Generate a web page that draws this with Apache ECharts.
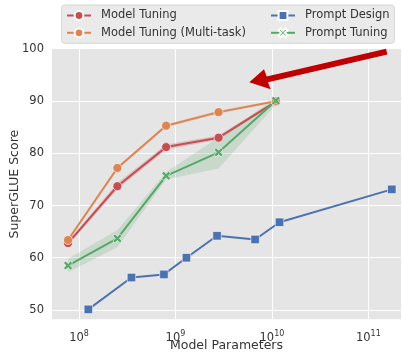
<!DOCTYPE html>
<html>
<head>
<meta charset="utf-8">
<script src="https://cdn.jsdelivr.net/npm/echarts@6/dist/echarts.min.js"></script>
<style>
  html, body { margin: 0; padding: 0; background: #fff; }
  #chart { width: 402px; height: 352px; }
</style>
</head>
<body>
<div id="chart"></div>
<script>
// Model sizes (parameters)
const t5Params = [7.7e7, 2.5e8, 8e8, 2.8e9, 1.1e10];
const gpt3Params = [1.25e8, 3.5e8, 7.6e8, 1.3e9, 2.7e9, 6.7e9, 1.2e10, 1.75e11];

// SuperGLUE scores
const modelTuning = [62.8, 73.7, 81.2, 83.0, 89.9];
const modelTuningLow = [62.4, 73.1, 80.7, 82.6, 89.6];
const modelTuningHigh = [63.2, 74.3, 81.7, 83.4, 90.2];

const multiTask = [63.4, 77.2, 85.3, 87.9, 90.0];
const multiTaskLow = [63.1, 76.9, 85.0, 87.6, 89.8];
const multiTaskHigh = [63.7, 77.5, 85.6, 88.2, 90.2];

const promptDesign = [50.1, 56.2, 56.8, 60.0, 64.2, 63.5, 66.8, 73.1];

const promptTuning = [58.5, 63.7, 75.7, 80.2, 90.1];
const promptTuningLow = [57.2, 62.0, 75.0, 77.1, 89.3];
const promptTuningHigh = [59.8, 65.3, 76.4, 83.1, 90.6];

const yTicks = [50, 60, 70, 80, 90, 100];

const RED = '#C44E52', ORANGE = '#DD8452', BLUE = '#4C72B0', GREEN = '#55A868';
const TEXT = '#333333';
const FONT = 'DejaVu Sans';

const xMarker = 'path://M0,2.2 L2.2,0 L5,2.8 L7.8,0 L10,2.2 L7.2,5 L10,7.8 L7.8,10 L5,7.2 L2.2,10 L0,7.8 L2.8,5 Z';

function pairs(xs, ys) { return xs.map((x, i) => [x, ys[i]]); }

// Shaded interval between low and high curves, drawn as one polygon
function bandSeries(name, xs, lo, hi, color) {
  return {
    type: 'custom',
    name: name + ' band',
    z: 1,
    silent: true,
    data: xs.map((x, i) => [x, lo[i], hi[i]]),
    encode: { x: 0, y: [1, 2] },
    renderItem: function (params, api) {
      if (params.dataIndex !== 0) return null;
      const pts = [];
      for (let i = 0; i < xs.length; i++) pts.push(api.coord([xs[i], hi[i]]));
      for (let i = xs.length - 1; i >= 0; i--) pts.push(api.coord([xs[i], lo[i]]));
      return {
        type: 'polygon',
        shape: { points: pts },
        style: { fill: color, stroke: null }
      };
    }
  };
}

function lineSeries(name, xs, ys, color, symbol, size) {
  return {
    type: 'line',
    name: name,
    z: 3,
    data: pairs(xs, ys),
    symbol: symbol,
    symbolSize: size,
    showAllSymbol: true,
    lineStyle: { color: color, width: 2 },
    itemStyle: { color: color, borderColor: '#ffffff', borderWidth: 0.6, opacity: 1 },
    emphasis: { disabled: true }
  };
}

const chart = echarts.init(document.getElementById('chart'), null, { renderer: 'canvas' });

const legendCommon = {
  orient: 'vertical',
  top: 8.5,
  padding: 0,
  itemWidth: 24,
  itemHeight: 11,
  itemGap: 3.3,
  selectedMode: false,
  textStyle: { color: TEXT, fontFamily: FONT, fontSize: 11.5, lineHeight: 14, padding: [0, 0, 0, 5] }
};

chart.setOption({
  animation: false,
  backgroundColor: '#ffffff',
  textStyle: { fontFamily: FONT },
  grid: {
    left: 52, right: 1, top: 49, bottom: 32.7,
    show: true, backgroundColor: '#e5e5e5', borderWidth: 0,
    containLabel: false,
    outerBoundsMode: 'none'
  },
  legend: [
    Object.assign({ left: 66, data: ['Model Tuning', 'Model Tuning (Multi-task)'] }, legendCommon),
    Object.assign({ left: 270, data: ['Prompt Design', 'Prompt Tuning'] }, legendCommon)
  ],
  graphic: [
    {
      type: 'rect', z: -1, silent: true,
      shape: { x: 61.7, y: 5, width: 332.6, height: 38.3, r: 3 },
      style: { fill: '#eaeaea', stroke: '#d4d4d4', lineWidth: 1 }
    },
    {
      // annotation arrow
      type: 'polygon', z: 100, silent: true,
      shape: { points: [[249.3, 82.3], [264, 69.3], [266.7, 76.4], [386.0, 48.8], [387.4, 54.6], [268.0, 82.2], [270.7, 89.3]] },
      style: { fill: '#c00000' }
    }
  ],
  xAxis: {
    type: 'log',
    logBase: 10,
    min: 5.25e7,
    max: 2.18e11,
    name: 'Model Parameters',
    nameLocation: 'middle',
    nameGap: 20,
    nameMoveOverlap: false,
    nameTextStyle: { color: TEXT, fontFamily: FONT, fontSize: 12.5 },
    axisLine: { show: false },
    axisTick: { show: false },
    splitLine: { show: true, showMinLine: false, showMaxLine: false, lineStyle: { color: '#ffffff', width: 1 } },
    axisLabel: {
      showMinLabel: false,
      showMaxLabel: false,
      margin: 11,
      color: TEXT,
      formatter: function (v) {
        const e = Math.round(Math.log10(v));
        return '{b|10}{s|' + e + '}';
      },
      rich: {
        b: { fontSize: 11.5, fontFamily: FONT, color: TEXT, lineHeight: 14, verticalAlign: 'bottom', padding: [4, 0, 0, 0] },
        s: { fontSize: 8, fontFamily: FONT, color: TEXT, lineHeight: 14, verticalAlign: 'top' }
      }
    }
  },
  yAxis: {
    type: 'value',
    min: 48.2,
    max: 100,
    splitNumber: 5,
    name: 'SuperGLUE Score',
    nameLocation: 'middle',
    nameGap: 31,
    nameMoveOverlap: false,
    nameTextStyle: { color: TEXT, fontFamily: FONT, fontSize: 12.5 },
    axisLine: { show: false },
    axisTick: { show: false },
    splitLine: { show: true, showMinLine: false, showMaxLine: false, lineStyle: { color: '#ffffff', width: 1 } },
    axisLabel: {
      margin: 8,
      color: TEXT,
      fontSize: 11.5,
      fontFamily: FONT,
      showMinLabel: false,
      formatter: function (v) { return yTicks.indexOf(v) >= 0 ? String(v) : ''; }
    }
  },
  series: [
    bandSeries('Model Tuning', t5Params, modelTuningLow, modelTuningHigh, 'rgba(196,78,82,0.25)'),
    bandSeries('Model Tuning (Multi-task)', t5Params, multiTaskLow, multiTaskHigh, 'rgba(221,132,82,0.22)'),
    bandSeries('Prompt Tuning', t5Params, promptTuningLow, promptTuningHigh, 'rgba(85,168,104,0.2)'),
    lineSeries('Model Tuning', t5Params, modelTuning, RED, 'circle', 9),
    lineSeries('Model Tuning (Multi-task)', t5Params, multiTask, ORANGE, 'circle', 9),
    lineSeries('Prompt Design', gpt3Params, promptDesign, BLUE, 'rect', 8.5),
    lineSeries('Prompt Tuning', t5Params, promptTuning, GREEN, xMarker, 9)
  ]
});
</script>
</body>
</html>
